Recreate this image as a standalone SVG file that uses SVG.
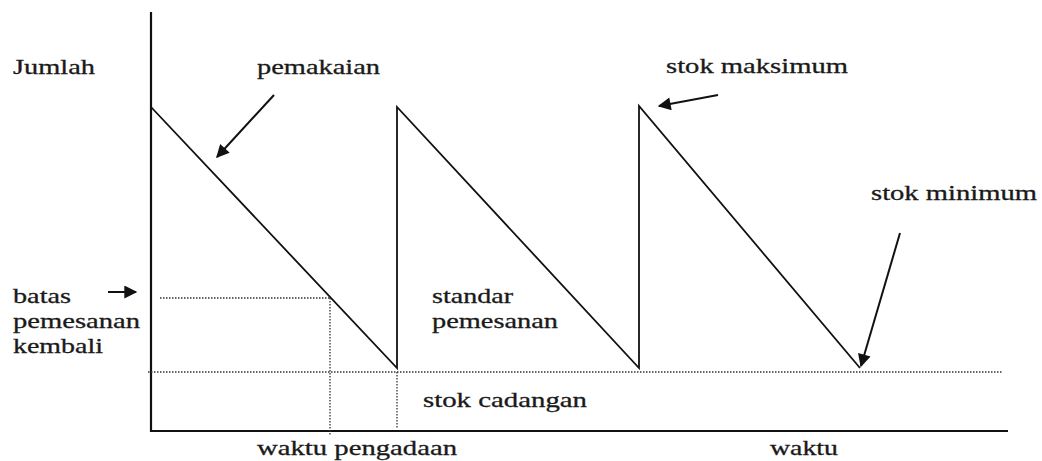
<svg xmlns="http://www.w3.org/2000/svg" width="1042" height="461" viewBox="0 0 1042 461">
<style>
.t{font-family:'Liberation Serif','DejaVu Serif','Times New Roman',serif;font-size:21px;fill:#1a1a1a;stroke:#1a1a1a;stroke-width:0.3}
.ax{stroke:#111;stroke-width:2.2;fill:none}
.ln{stroke:#111;stroke-width:1.8;fill:none}
.dot{stroke:#333;stroke-width:1.3;stroke-dasharray:1.5 1.5;fill:none}
.arr{stroke:#111;stroke-width:2;fill:none;marker-end:url(#ah)}
</style>
<defs>
<marker id="ah" viewBox="0 0 10 10" refX="9" refY="5" markerWidth="8" markerHeight="6.5" markerUnits="strokeWidth" orient="auto">
<path d="M0,0 L10,5 L0,10 z" fill="#111"/>
</marker>
</defs>
<rect width="1042" height="461" fill="#fff"/>
<g id="axes">
<line class="ax" x1="151" y1="12" x2="151" y2="432"/>
<line class="ax" x1="150" y1="431" x2="1008" y2="431"/>
</g>
<g id="sawtooth">
<polyline class="ln" points="151,107 397,368 397,107 639,368 639,106 860,368"/>
</g>
<g id="guides">
<line class="dot" x1="148" y1="372" x2="1003" y2="372"/>
<line class="dot" x1="160" y1="298" x2="330" y2="298"/>
<line class="dot" x1="330" y1="298" x2="330" y2="436"/>
<line class="dot" x1="397" y1="372" x2="397" y2="428"/>
</g>
<g id="connectors">
<line class="arr" x1="274" y1="95" x2="217" y2="157"/>
<line class="arr" x1="718" y1="95" x2="659" y2="106"/>
<line class="arr" x1="900" y1="233" x2="861" y2="366"/>
<line class="arr" x1="108" y1="292" x2="136" y2="292"/>
</g>
<g id="labels">
<text class="t" x="13" y="74" textLength="82" lengthAdjust="spacingAndGlyphs">Jumlah</text>
<text class="t" x="257" y="74" textLength="123" lengthAdjust="spacingAndGlyphs">pemakaian</text>
<text class="t" x="666" y="73" textLength="182" lengthAdjust="spacingAndGlyphs">stok maksimum</text>
<text class="t" x="871" y="200" textLength="166" lengthAdjust="spacingAndGlyphs">stok minimum</text>
<text class="t" x="13" y="303" textLength="58" lengthAdjust="spacingAndGlyphs">batas</text>
<text class="t" x="13" y="328" textLength="127" lengthAdjust="spacingAndGlyphs">pemesanan</text>
<text class="t" x="13" y="353" textLength="90" lengthAdjust="spacingAndGlyphs">kembali</text>
<text class="t" x="432" y="303" textLength="81" lengthAdjust="spacingAndGlyphs">standar</text>
<text class="t" x="432" y="328" textLength="126" lengthAdjust="spacingAndGlyphs">pemesanan</text>
<text class="t" x="423" y="407" textLength="164" lengthAdjust="spacingAndGlyphs">stok cadangan</text>
<text class="t" x="257" y="455" textLength="200" lengthAdjust="spacingAndGlyphs">waktu pengadaan</text>
<text class="t" x="770" y="455" textLength="68" lengthAdjust="spacingAndGlyphs">waktu</text>
</g>
</svg>
